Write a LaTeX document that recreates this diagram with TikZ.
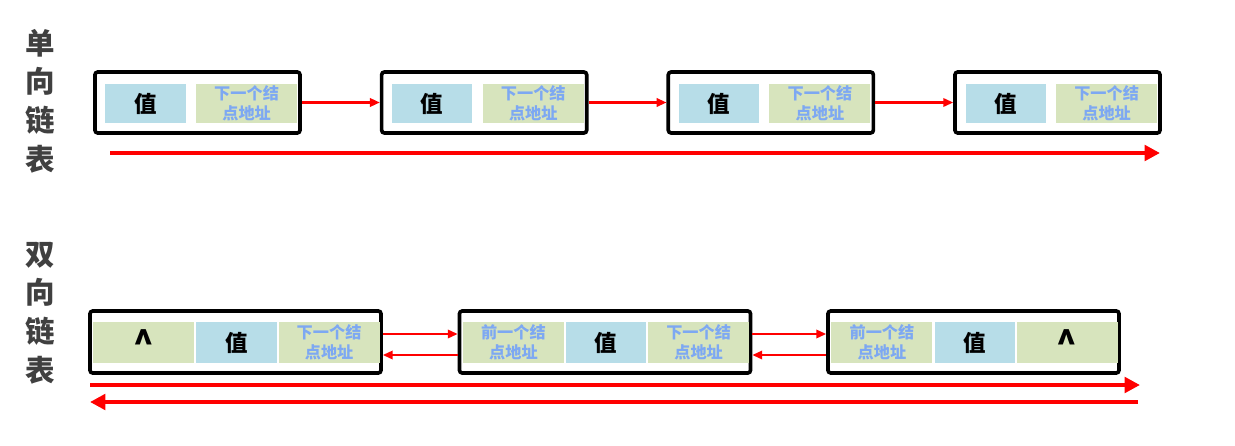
\documentclass[tikz,border=0pt]{standalone}
\usepackage{fontspec}
\setmainfont{Noto Sans CJK SC}
\usetikzlibrary{arrows.meta,positioning}

\definecolor{valfill}{RGB}{183,221,232}
\definecolor{adrfill}{RGB}{215,228,189}
\definecolor{adrtext}{RGB}{125,168,242}
\definecolor{labtext}{RGB}{64,64,64}
\definecolor{linkred}{RGB}{255,0,0}

\begin{document}
\begin{tikzpicture}[
    x=0.025cm, y=-0.025cm,
    node distance=0.0375cm,
    outer/.style={rectangle, rounded corners=2pt, draw=black, line width=2.6pt, inner sep=0pt},
    valcell/.style={rectangle, fill=valfill, minimum width=2cm, inner sep=0pt, font=\bfseries\fontsize{16}{18}\selectfont},
    adrcell/.style={rectangle, fill=adrfill, minimum width=2.525cm, inner sep=0pt, text=adrtext, align=center, font=\bfseries\fontsize{11.5}{14}\selectfont},
    nilcell/.style={adrcell, text=black, font=\bfseries\fontsize{24}{24}\selectfont},
    title/.style={align=center, text=labtext, inner sep=0pt, font=\bfseries\fontsize{21}{27.5}\selectfont},
    link/.style={-{Triangle[length=7pt,width=6pt]}, draw=linkred, line width=1.5pt},
    trav/.style={-{Triangle[length=11pt,width=11pt]}, draw=linkred, line width=3pt},
]
    \useasboundingbox (0,0) rectangle (1235,446);

    % 单向链表
    \node[title] (t1) at (40,101) {单\\向\\链\\表};
    \foreach \i in {0,...,3}{
        \node[outer, minimum width=5.125cm, minimum height=1.525cm] (s\i) at (197.5+286.67*\i,102.5) {};
        \node[valcell, minimum height=0.975cm] (sv\i) at (145.5+286.67*\i,103.5) {值};
        \node[adrcell, minimum height=0.975cm, right=0.25cm of sv\i] (sa\i) {下一个结\\点地址};
    }
    \foreach \i/\j in {0/1,1/2,2/3}
        \draw[link] (s\i.east) -- (s\j.west);

    \coordinate (sbeg) at (110,153);
    \coordinate (send) at (1160,153);
    \draw[trav] (sbeg) -- (send);

    % 双向链表
    \node[title] (t2) at (40,313) {双\\向\\链\\表};
    \foreach \i/\cx in {0/235.5,1/605,2/973.5}{
        \node[outer, minimum width=7.275cm, minimum height=1.55cm] (d\i) at (\cx,342) {};
        \node[valcell, minimum height=1.025cm] (dv\i) at (\cx+1,342.5) {值};
    }
    \node[nilcell, minimum height=1.025cm, left=of dv0] (dl0) {\textasciicircum};
    \node[adrcell, minimum height=1.025cm, right=of dv0] (dr0) {下一个结\\点地址};
    \node[adrcell, minimum height=1.025cm, left=of dv1] (dl1) {前一个结\\点地址};
    \node[adrcell, minimum height=1.025cm, right=of dv1] (dr1) {下一个结\\点地址};
    \node[adrcell, minimum height=1.025cm, left=of dv2] (dl2) {前一个结\\点地址};
    \node[nilcell, minimum height=1.025cm, right=of dv2] (dr2) {\textasciicircum};

    \foreach \i/\j in {0/1,1/2}{
        \draw[link] ([yshift=0.2cm]d\i.east) -- ([yshift=0.2cm]d\j.west);
        \draw[link] ([yshift=-0.325cm]d\j.west) -- ([yshift=-0.325cm]d\i.east);
    }

    \coordinate (dfbeg) at (90,385);
    \coordinate (dfend) at (1140,385);
    \coordinate (dbbeg) at (1138,402);
    \coordinate (dbend) at (90,402);
    \draw[trav] (dfbeg) -- (dfend);
    \draw[trav] (dbbeg) -- (dbend);

\end{tikzpicture}
\end{document}
